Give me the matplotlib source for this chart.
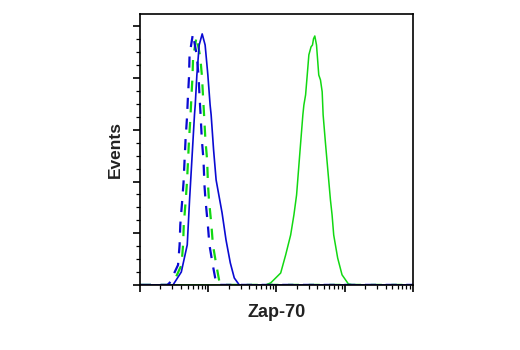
import matplotlib
matplotlib.use("Agg")
import matplotlib.pyplot as plt
from matplotlib.ticker import MultipleLocator, LogLocator, NullFormatter
import numpy as np

# Flow cytometry histograms: log10 fluorescence vs. events
blue_solid_log = [1.0, 1.486, 1.607, 1.694, 1.728, 1.800, 1.811, 1.835, 1.869, 1.913,
                  1.956, 1.996, 2.029, 2.044, 2.080, 2.117, 2.204, 2.262, 2.325, 2.383,
                  2.456, 5.0]
blue_solid_cnt = [0, 0, 5.0, 15.5, 32.9, 65.8, 69.6, 81.2, 92.8, 97.1,
                  92.8, 81.2, 69.6, 65.8, 52.2, 40.6, 27.9, 17.4, 8.5, 2.7,
                  0, 0]

blue_dash_log = [1.0, 1.403, 1.436, 1.559, 1.582, 1.592, 1.621, 1.640, 1.655, 1.669,
                 1.690, 1.704, 1.719, 1.728, 1.777, 1.832, 1.859, 1.873, 1.888, 1.908,
                 1.932, 1.946, 1.961, 1.996, 2.019, 2.068, 2.117, 2.146, 5.0]
blue_dash_cnt = [0, 0, 0.8, 7.7, 15.5, 23.2, 32.9, 39.8, 48.4, 56.1,
                 64.6, 72.7, 80.1, 89.0, 97.1, 89.0, 81.2, 73.5, 66.5, 56.1,
                 48.4, 38.7, 32.9, 23.2, 15.5, 7.7, 0.8, 0, 0]

green_dash_log = [1.0, 1.45, 1.49, 1.61, 1.633, 1.643, 1.672, 1.69, 1.706, 1.72,
                  1.74, 1.755, 1.77, 1.78, 1.83, 1.885, 1.91, 1.925, 1.94, 1.96,
                  1.985, 1.998, 2.012, 2.048, 2.07, 2.12, 2.168, 2.2, 5.0]
green_dash_cnt = [0, 0, 0.8, 7.7, 15.5, 23.2, 32.9, 39.8, 48.4, 56.1,
                  64.6, 72.7, 80.1, 88.0, 96.0, 88.0, 80.5, 73.0, 66.0, 56.1,
                  48.4, 38.7, 32.9, 23.2, 15.5, 7.7, 0.8, 0, 0]

green_solid_log = [1.0, 2.845, 2.918, 3.063, 3.136, 3.209, 3.257, 3.296, 3.344, 3.388,
                   3.403, 3.428, 3.452, 3.476, 3.508, 3.529, 3.544, 3.563, 3.588, 3.621,
                   3.646, 3.671, 3.685, 3.719, 3.792, 3.816, 3.840, 3.898, 3.962, 4.054,
                   4.112, 5.0]
green_solid_cnt = [0, 0, 0.8, 4.6, 11.6, 19.3, 27.1, 34.8, 51.1, 65.8,
                   69.6, 73.5, 81.2, 89.0, 92.1, 92.8, 95.2, 96.3, 92.8, 81.2,
                   79.3, 74.7, 65.8, 54.9, 32.9, 27.1, 19.3, 10.4, 3.9, 0.4,
                   0, 0]

BLUE = "#0a0ad2"
GREEN = "#12d812"
LABEL_FONT = ["Liberation Sans", "DejaVu Sans"]

fig = plt.figure(figsize=(5.2, 3.5), dpi=100)
ax = fig.add_axes([0.269, 0.186, 0.525, 0.774])

ax.plot(10 ** np.array(green_solid_log), green_solid_cnt, color=GREEN, lw=1.1, zorder=2)
ax.plot(10 ** np.array(blue_solid_log), blue_solid_cnt, color=BLUE, lw=1.2, zorder=3)
ax.plot(10 ** np.array(green_dash_log), green_dash_cnt, color=GREEN, lw=1.6,
        linestyle=(0, (5.0, 4.3)), zorder=2)
ax.plot(10 ** np.array(blue_dash_log), blue_dash_cnt, color=BLUE, lw=1.6,
        linestyle=(0, (5.0, 4.3)), zorder=3)

ax.set_xscale("log")
ax.set_xlim(10, 1e5)
ax.set_ylim(0, 104.8)

ax.xaxis.set_major_locator(LogLocator(base=10, numticks=10))
ax.xaxis.set_minor_locator(LogLocator(base=10, subs=np.arange(2, 10), numticks=10))
ax.xaxis.set_major_formatter(NullFormatter())
ax.xaxis.set_minor_formatter(NullFormatter())
ax.yaxis.set_major_locator(MultipleLocator(20))
ax.yaxis.set_minor_locator(MultipleLocator(5))
ax.yaxis.set_major_formatter(NullFormatter())

ax.tick_params(which="major", direction="out", length=5, width=1.2, color="black")
ax.tick_params(which="minor", direction="out", length=2.8, width=0.9, color="black")
ax.tick_params(axis="x", which="both", top=False)
ax.tick_params(axis="y", which="both", right=False)

for s in ax.spines.values():
    s.set_linewidth(1.2)
    s.set_zorder(5)

ax.set_xlabel("Zap-70", fontsize=13, fontweight="bold", family=LABEL_FONT,
              color="#222222", labelpad=5.5)
ax.set_ylabel("Events", fontsize=12.5, fontweight="bold", family=LABEL_FONT,
              color="#222222", labelpad=4)

fig.savefig("out.png", dpi=100)
